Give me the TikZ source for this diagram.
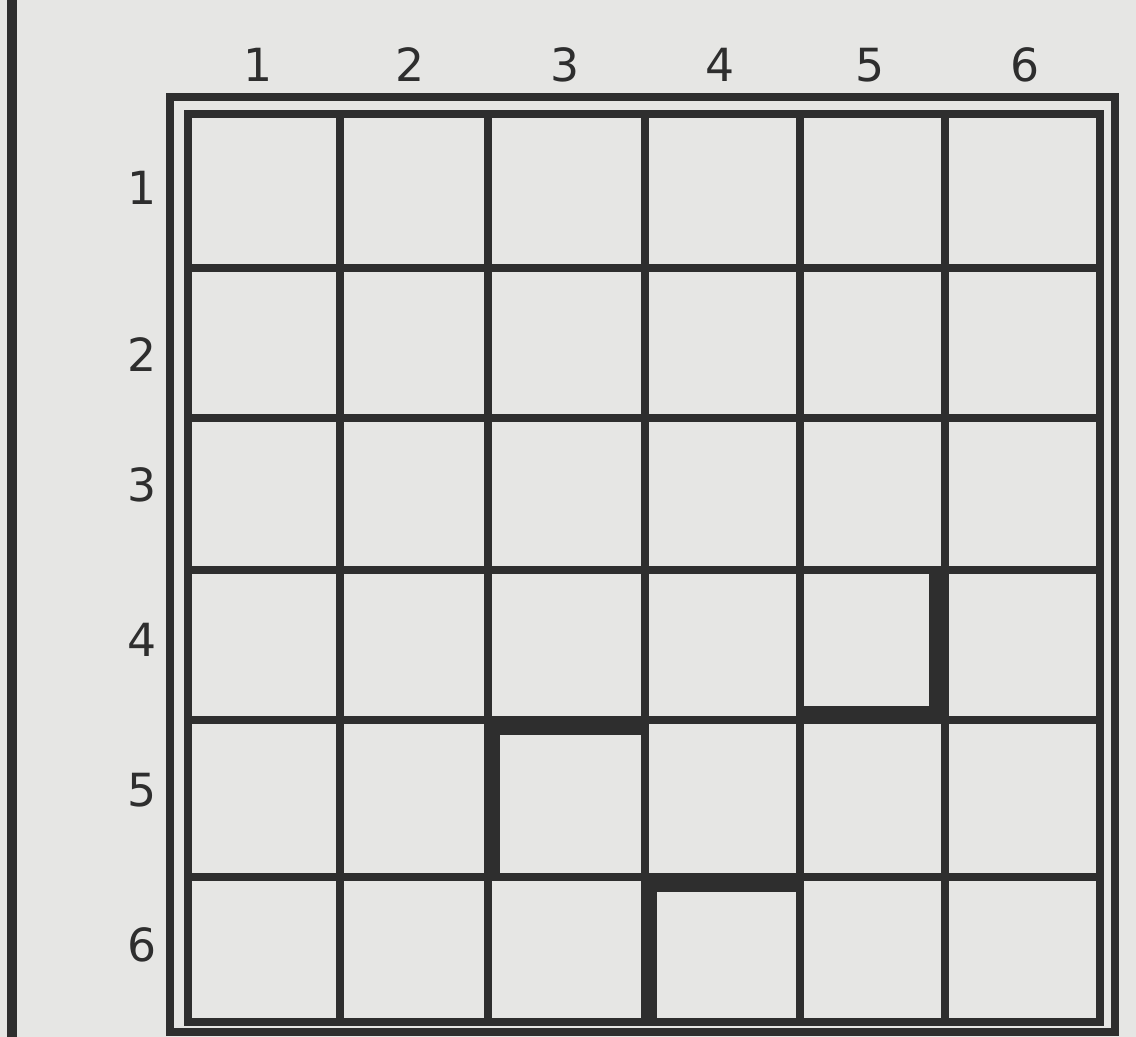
\documentclass[tikz,border=0pt]{standalone}
\usepackage{fontspec}
\setsansfont{DejaVu Sans}
\definecolor{pPaper}{HTML}{E6E6E4}
\definecolor{pInk}{HTML}{2E2E2E}

\begin{document}
\begin{tikzpicture}[
  x=0.02cm, y=-0.02cm,
  every node/.style={font=\sffamily},
  gridline/.style={draw=pInk, line width=4.2pt},
  frameline/.style={draw=pInk, line width=4pt},
  wallline/.style={draw=pInk, line width=9pt, line cap=rect},
  lbl/.style={font=\sffamily\fontsize{26}{26}\selectfont, text=pInk},
]
  \fill[pPaper] (0,0) rectangle (1136,1037);
  \useasboundingbox (0,0) rectangle (1136,1037);

  % margin rule
  \draw[pInk, line width=5.5pt] (12,0) -- (12,1037);

  % outer frame
  \draw[frameline] (170,97) rectangle (1115,1032);

  % grid
  \draw[gridline, line width=4.8pt] (188,114) rectangle (1100,1022);
  \foreach \xv in {340,488,645,800,945}
    \draw[gridline] (\xv,114) -- (\xv,1022);
  \foreach \yv in {268,418,570,720,877}
    \draw[gridline] (188,\yv) -- (1100,\yv);

  % column numbers
  \foreach \n/\xv in {1/258,2/410,3/565,4/720,5/870,6/1025}
    \node[lbl] (col\n) at (\xv,65) {\n};

  % row numbers
  \foreach \n/\yv in {1/188,2/355,3/485,4/640,5/790,6/945}
    \node[lbl] (row\n) at (142,\yv) {\n};

  % walls
  \draw[wallline] (937,574) -- (937,714) -- (804,714);
  \draw[wallline] (636,727) -- (492,727) -- (492,873);
  \draw[wallline] (788,884) -- (649,884) -- (649,1015);
\end{tikzpicture}
\end{document}
